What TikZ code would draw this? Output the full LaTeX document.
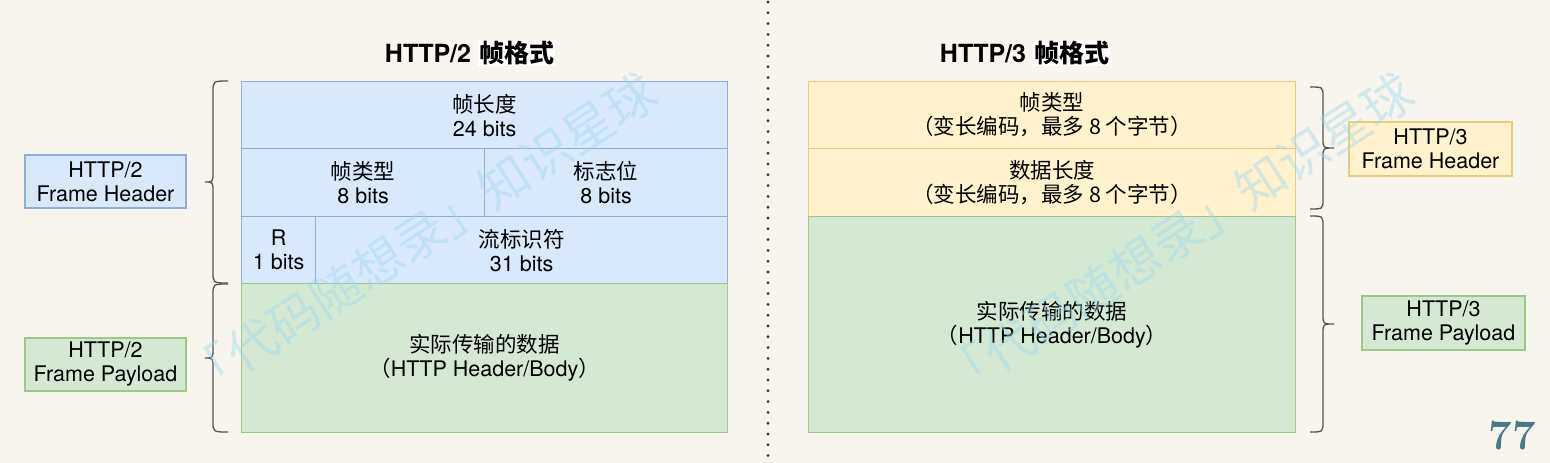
\documentclass[tikz,border=0pt]{standalone}
\usepackage{fontspec}
\setmainfont{TeX Gyre Heros}
\newfontfamily\cjk{Noto Sans CJK SC}
\newfontfamily\pgfont{Latin Modern Roman}
\definecolor{bg}{HTML}{F7F5EE}
\definecolor{bluef}{HTML}{DAE8FC}\definecolor{blued}{HTML}{8FAEDC}
\definecolor{greenf}{HTML}{D5E8D4}\definecolor{greend}{HTML}{9BC98A}
\definecolor{yelf}{HTML}{FFF2CC}\definecolor{yeld}{HTML}{E8CC7A}
\definecolor{brc}{HTML}{555555}
\definecolor{sepc}{HTML}{3A3A3A}
\definecolor{wm}{HTML}{9ED8EC}
\definecolor{pg}{HTML}{4A7A86}
\tikzset{
  txt/.style={font=\fontsize{21.5}{24}\selectfont, align=center},
  cell/.style={txt, line width=1.2pt, inner sep=0pt, anchor=north west},
  cellb/.style={cell, draw=blued, fill=bluef},
  cellg/.style={cell, draw=greend, fill=greenf},
  celly/.style={cell, draw=yeld, fill=yelf},
  lab/.style={txt, line width=1.2pt, inner sep=0pt, minimum width=161pt, minimum height=53pt},
  ttl/.style={font=\bfseries\fontsize{25}{26}\selectfont},
  bracestyle/.style={draw=brc, line width=1.3pt},
  wmark/.style={text=wm, opacity=0.42, font=\cjk\fontsize{50}{50}\selectfont, rotate=33},
}
\begin{document}
\begin{tikzpicture}[x=1pt,y=-1pt]
\fill[bg] (0,0) rectangle (1550,463);
\useasboundingbox (0,0) rectangle (1550,463);

% separator
\coordinate (sepT) at (768,2);
\coordinate (sepB) at (768,463);
\draw[sepc, line width=3.2pt, line cap=round, dash pattern=on 0pt off 10.8pt] (sepT) -- (sepB);

% titles
\node[ttl] (t2) at (470,53) {HTTP/2 {\cjk\setlength\fboxsep{1pt}\colorbox{white}{帧格式}}};
\node[ttl] (t3) at (1025,53) {HTTP/3 {\cjk\setlength\fboxsep{1pt}\colorbox{white}{帧格式}}};

% HTTP/2 frame
\node[cellb, minimum width=486pt, minimum height=67pt] (len2) at (241,81) {{\cjk 帧长度}\\24 bits};
\node[cellb, minimum width=243pt, minimum height=68pt] (typ2) at (241,148) {{\cjk 帧类型}\\8 bits};
\node[cellb, minimum width=243pt, minimum height=68pt] (flg2) at (484,148) {{\cjk 标志位}\\8 bits};
\node[cellb, minimum width=74pt, minimum height=67pt] (r2) at (241,216) {R\\1 bits};
\node[cellb, minimum width=412pt, minimum height=67pt] (sid2) at (315,216) {{\cjk 流标识符}\\31 bits};
\node[cellg, minimum width=486pt, minimum height=149pt] (pay2) at (241,283) {{\cjk 实际传输的数据}\\{\cjk （}HTTP Header/Body{\cjk ）}};

% HTTP/3 frame
\node[celly, minimum width=487pt, minimum height=67pt] (typ3) at (808,81) {{\cjk 帧类型}\\{\cjk （变长编码，最多 8 个字节）}};
\node[celly, minimum width=487pt, minimum height=68pt] (len3) at (808,148) {{\cjk 数据长度}\\{\cjk （变长编码，最多 8 个字节）}};
\node[cellg, minimum width=487pt, minimum height=216pt] (pay3) at (808,216) {{\cjk 实际传输的数据}\\{\cjk （}HTTP Header/Body{\cjk ）}};

% label boxes
\node[lab, draw=blued, fill=bluef] (h2) at (105.5,181.5) {HTTP/2\\Frame Header};
\node[lab, draw=greend, fill=greenf] (p2) at (105.5,364.5) {HTTP/2\\Frame Payload};
\node[lab, draw=yeld, fill=yelf, minimum width=163pt, minimum height=54pt] (h3) at (1430.5,149) {HTTP/3\\Frame Header};
\node[lab, draw=greend, fill=greenf, minimum width=163pt, minimum height=54pt] (p3) at (1443.5,323) {HTTP/3\\Frame Payload};

% braces (left side, HTTP/2)
\draw[bracestyle] (228,81) .. controls (213,81) .. (213,92) -- (213,172) .. controls (213,182) .. (205,182)
  .. controls (213,182) .. (213,192) -- (213,272) .. controls (213,283) .. (228,283);
\draw[bracestyle] (228,284) .. controls (213,284) .. (213,295) -- (213,348) .. controls (213,358) .. (205,358)
  .. controls (213,358) .. (213,368) -- (213,421) .. controls (213,432) .. (228,432);
% braces (right side, HTTP/3)
\draw[bracestyle] (1310,87) .. controls (1323,87) .. (1323,97) -- (1323,139) .. controls (1323,148) .. (1334,148)
  .. controls (1323,148) .. (1323,157) -- (1323,199) .. controls (1323,209) .. (1310,209);
\draw[bracestyle] (1310,216) .. controls (1323,216) .. (1323,226) -- (1323,315) .. controls (1323,324) .. (1334,324)
  .. controls (1323,324) .. (1323,333) -- (1323,422) .. controls (1323,432) .. (1310,432);

% watermarks
\node[wmark] (wm1) at (420,236) {「代码随想录」知识星球};
\node[wmark] (wm2) at (1177,236) {「代码随想录」知识星球};

% page number
\node[text=pg, font=\pgfont\bfseries\fontsize{42}{42}\selectfont] (pnum) at (1512,436) {77};
\end{tikzpicture}
\end{document}
